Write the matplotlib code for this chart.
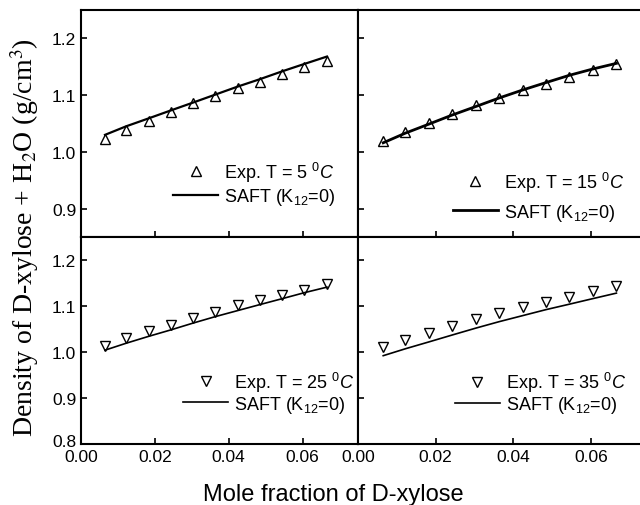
import numpy as np
import matplotlib
matplotlib.use("Agg")
import matplotlib.pyplot as plt
import matplotlib.transforms as mtransforms

plt.rcParams['font.family'] = ['Liberation Sans', 'DejaVu Sans']
plt.rcParams['mathtext.fontset'] = 'custom'
plt.rcParams['mathtext.rm'] = 'Liberation Sans'
plt.rcParams['mathtext.it'] = 'Liberation Sans:italic'

# mole fraction of D-xylose (same grid in all four panels)
x_exp = [0.0065, 0.0122, 0.0183, 0.0243, 0.0304, 0.0364, 0.0424, 0.0484, 0.0545, 0.0605, 0.0666]

# experimental densities (g/cm3)
exp_5 = [1.022, 1.038, 1.054, 1.070, 1.086, 1.099, 1.112, 1.124, 1.137, 1.149, 1.160]
exp_15 = [1.019, 1.035, 1.051, 1.066, 1.082, 1.095, 1.109, 1.120, 1.132, 1.144, 1.154]
exp_25 = [1.014, 1.030, 1.045, 1.059, 1.074, 1.088, 1.102, 1.113, 1.125, 1.135, 1.147]
exp_35 = [1.010, 1.026, 1.041, 1.056, 1.071, 1.084, 1.097, 1.109, 1.120, 1.132, 1.143]

# SAFT (K12=0) predictions
saft_5 = [1.030, 1.045, 1.059, 1.073, 1.087, 1.101, 1.115, 1.128, 1.142, 1.155, 1.168]
saft_15 = [1.016, 1.033, 1.049, 1.065, 1.080, 1.095, 1.109, 1.122, 1.135, 1.146, 1.156]
saft_25 = [1.004, 1.019, 1.034, 1.048, 1.063, 1.077, 1.090, 1.103, 1.116, 1.129, 1.141]
saft_35 = [0.992, 1.007, 1.022, 1.037, 1.052, 1.066, 1.079, 1.092, 1.104, 1.116, 1.128]

temps = ['5', '15', '25', '35']

W, H = 640, 506
fig = plt.figure(figsize=(W / 100, H / 100), dpi=100)

def box(l, t, r, b):
    return [l / W, (H - b) / H, (r - l) / W, (b - t) / H]

ax_tl = fig.add_axes(box(81, 11, 358, 238))
ax_tr = fig.add_axes(box(358, 11, 649, 238))
ax_bl = fig.add_axes(box(81, 238, 358, 445))
ax_br = fig.add_axes(box(358, 238, 649, 445))

# axes, exp, saft, marker, line width, legend anchor, label spacing
panels = [
    (ax_tl, exp_5, saft_5, '^', 1.6, (0.332, 0.236), 0.15),
    (ax_tr, exp_15, saft_15, '^', 2.0, (0.326, 0.18), 0.45),
    (ax_bl, exp_25, saft_25, 'v', 1.2, (0.368, 0.251), 0.0),
    (ax_br, exp_35, saft_35, 'v', 1.2, (0.333, 0.249), 0.0),
]

for i, (ax, ye, ys, mk, lw, anchor, lsp) in enumerate(panels):
    ax.plot(x_exp, ye, mk, ls='none', ms=7.5, mfc='white', mec='black', mew=1.0,
            label='Exp. T = ' + temps[i] + ' $^0$$\\it{C}$')
    ax.plot(x_exp, ys, '-', color='black', lw=lw, label='SAFT (K$_{12}$=0)')
    ax.set_xlim(0, 0.075)
    ax.set_xticks([0.00, 0.02, 0.04, 0.06])
    ax.tick_params(direction='in', length=4, width=1.2, labelsize=12.5,
                   top=False, right=False)
    for s in ax.spines.values():
        s.set_linewidth(1.5)
    ax.legend(loc='center left', bbox_to_anchor=anchor, frameon=False,
              fontsize=13, handlelength=2.5, handletextpad=0.33,
              labelspacing=lsp, borderaxespad=0, borderpad=0)

for ax in (ax_tl, ax_tr):
    ax.set_ylim(0.85, 1.25)
    ax.set_yticks([0.9, 1.0, 1.1, 1.2])
    ax.tick_params(labelbottom=False)
for ax in (ax_bl, ax_br):
    ax.set_ylim(0.8, 1.25)
    ax.set_yticks([0.8, 0.9, 1.0, 1.1, 1.2])
for ax in (ax_tr, ax_br):
    ax.tick_params(labelleft=False)
for ax in (ax_tl, ax_bl):
    ax.set_yticklabels([f'{v:.1f}' for v in ax.get_yticks()])
ax_bl.set_xticklabels(['0.00', '0.02', '0.04', '0.06'])
ax_br.set_xticklabels(['0.00', '0.02', '0.04', '0.06'])

# the 0.8 label sits a little higher, above the 0.00 label
lab08 = ax_bl.get_yticklabels()[0]
lab08.set_transform(lab08.get_transform() +
                    mtransforms.ScaledTranslation(0, 4 / 100, fig.dpi_scale_trans))

fig.text(333 / W, 1 - 495 / H, 'Mole fraction of D-xylose', ha='center', va='center',
         fontsize=17)
fig.text(25 / W, 1 - 238 / H, 'Density of D-xylose + H$_2$O (g/cm$^3$)',
         rotation=90, ha='center', va='center', fontsize=20,
         family='Liberation Serif', math_fontfamily='stix')

fig.savefig('out.png', dpi=100)
